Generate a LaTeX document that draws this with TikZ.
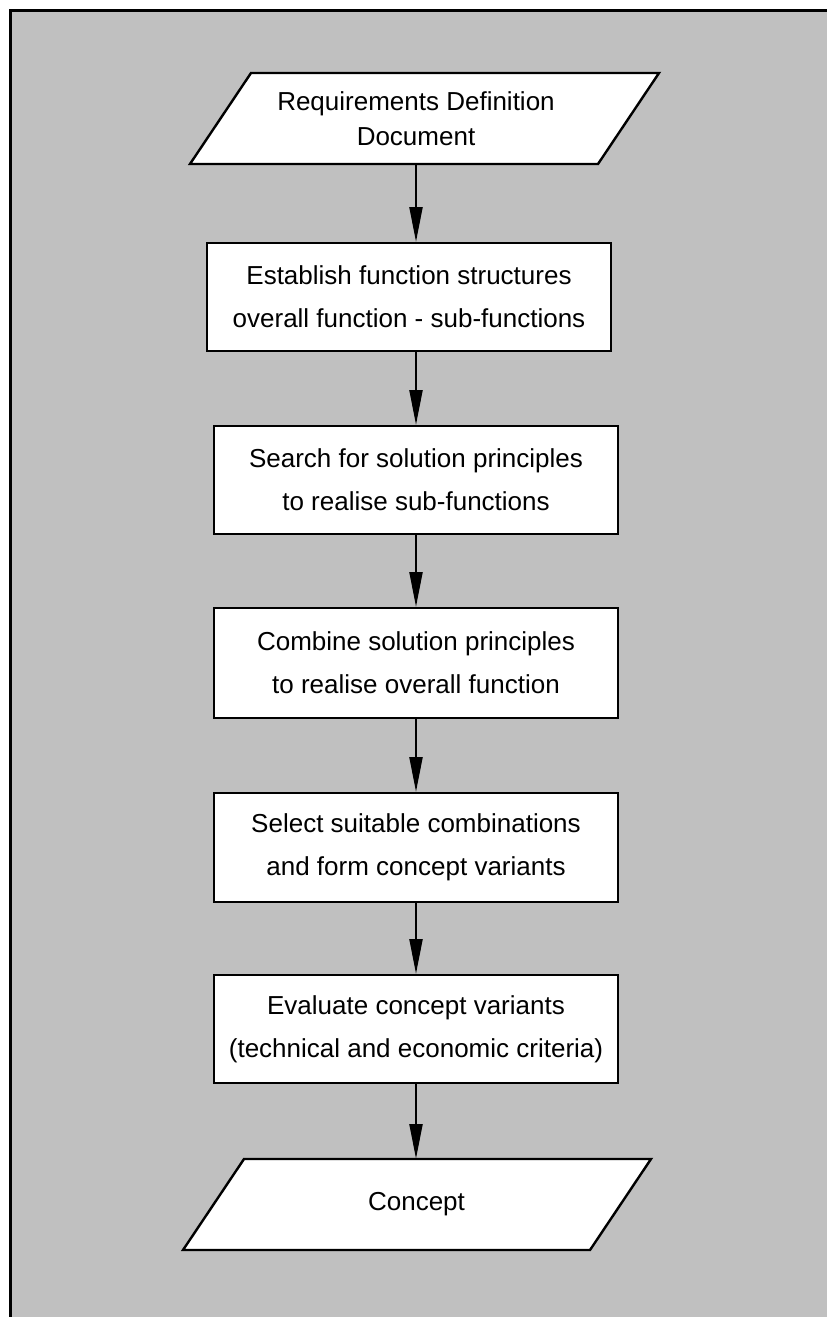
\documentclass[tikz,border=0pt]{standalone}
\usepackage{fontspec}
\setmainfont{Liberation Sans}
\usetikzlibrary{arrows.meta}
\definecolor{panel}{RGB}{192,192,192}
\begin{document}
\begin{tikzpicture}[x=0.75pt,y=-0.75pt,
  stepbox/.style={draw=black, fill=white, line width=1.8pt, minimum width=303pt,
    align=center, inner sep=0pt, font=\fontsize{19.5pt}{32.5pt}\selectfont},
  iotext/.style={align=center, inner sep=0pt, minimum height=68.25pt,
    font=\fontsize{19.5pt}{26.3pt}\selectfont},
  io/.style={draw=black, fill=white, line width=1.8pt, line join=miter},
  flow/.style={line width=1.5pt, -{Triangle[length=26pt,width=9.75pt]}}]
\useasboundingbox (0,0) rectangle (827,1317);
% page and grey panel with its frame
\fill[white] (0,0) rectangle (827,1317);
\fill[panel] (10,10) rectangle (827,1317);
\draw[line width=2.25pt] (10,1317) -- (10,10) -- (827,10);

% input document
\filldraw[io] (251,73) -- (659,73) -- (598,164) -- (190,164) -- cycle;
\node[iotext] (req) at (416,118.5) {Requirements Definition\\Document};

% process steps
\node[stepbox, minimum height=81pt] (box1) at (409,297)
  {Establish function structures\\overall function - sub-functions};
\node[stepbox, minimum height=81pt] (box2) at (416,480)
  {Search for solution principles\\to realise sub-functions};
\node[stepbox, minimum height=82.5pt] (box3) at (416,663)
  {Combine solution principles\\to realise overall function};
\node[stepbox, minimum height=81.75pt] (box4) at (416,847.5)
  {Select suitable combinations\\and form concept variants};
\node[stepbox, minimum height=81pt] (box5) at (416,1029)
  {Evaluate concept variants\\(technical and economic criteria)};

% output
\filldraw[io] (244,1159) -- (651,1159) -- (590,1250) -- (183,1250) -- cycle;
\node[iotext] (concept) at (416.5,1204.5) {Concept};

% flow arrows
\draw[flow] (req.south) -- (req.south |- box1.north);
\draw[flow] (box2.north |- box1.south) -- (box2.north);
\draw[flow] (box2.south) -- (box3.north);
\draw[flow] (box3.south) -- (box4.north);
\draw[flow] (box4.south) -- (box5.north);
\draw[flow] (box5.south) -- (box5.south |- concept.north);
\end{tikzpicture}
\end{document}
